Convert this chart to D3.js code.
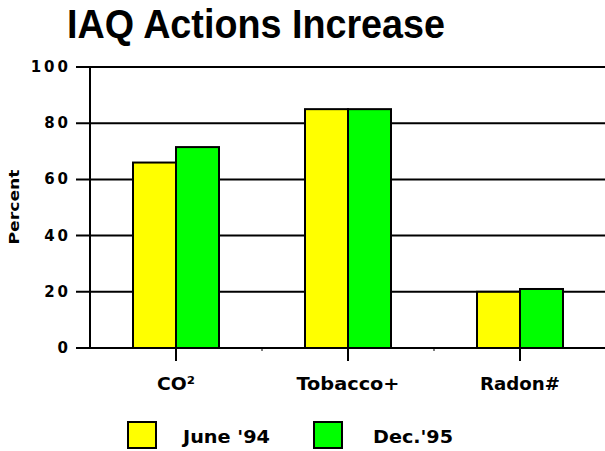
<!DOCTYPE html>
<html><head><meta charset="utf-8">
<script src="https://cdn.jsdelivr.net/npm/d3@7"></script>
<style>body{margin:0;background:#fff}svg{display:block}</style>
</head><body>
<svg id="c" width="605" height="451"></svg>
<script>
const categories = ["CO\u00B2", "Tobacco+", "Radon#"];
const seriesNames = ["June '94", "Dec.'95"];
const june94 = [66, 85, 20];
const dec95 = [71.5, 85, 21];
const yTicks = [0, 20, 40, 60, 80, 100];
const colors = ["#ffff00", "#00ff00"];

(function () {
const svg = d3.select("#c");
const W = 605, H = 451;
const pLeft = 90, pRight = 606, pTop = 67, pBottom = 348;
const font = "'DejaVu Sans', sans-serif";

const x = d3.scaleBand().domain(categories).range([pLeft, pRight]);
const xs = d3.scaleBand().domain(seriesNames).range([0, x.bandwidth()]).paddingOuter(1).paddingInner(0);
const y = d3.scaleLinear().domain([0, 100]).range([pBottom, pTop]);

// title
svg.append("text").attr("x", 67).attr("y", 38)
  .attr("font-family", "'Liberation Sans', Arial, sans-serif").attr("font-weight", "bold")
  .attr("font-size", 41).attr("textLength", 378).attr("lengthAdjust", "spacingAndGlyphs")
  .text("IAQ Actions Increase");

// gridlines
svg.append("g").selectAll("line").data(yTicks).join("line")
  .attr("x1", 76).attr("x2", W).attr("y1", d => y(d)).attr("y2", d => y(d))
  .attr("stroke", "#000").attr("stroke-width", 2);

// y axis line
svg.append("line").attr("x1", pLeft).attr("x2", pLeft).attr("y1", y(100)).attr("y2", y(0))
  .attr("stroke", "#000").attr("stroke-width", 2);

// y tick labels
svg.append("g").selectAll("text").data(yTicks).join("text")
  .attr("x", 71).attr("y", d => y(d) + 5).attr("text-anchor", "end")
  .attr("font-family", font).attr("font-weight", "bold").attr("font-size", 15)
  .attr("letter-spacing", 3)
  .text(d => String(d));

// y label
svg.append("text").attr("transform", "translate(19,207) rotate(-90)")
  .attr("text-anchor", "middle").attr("font-family", font).attr("font-weight", "bold")
  .attr("font-size", 14).attr("textLength", 75).attr("lengthAdjust", "spacingAndGlyphs")
  .text("Percent");

// bars
const data = categories.map((c, i) => ({c, vals: [june94[i], dec95[i]]}));
const g = svg.append("g");
data.forEach(d => {
  d.vals.forEach((v, j) => {
    g.append("rect")
      .attr("x", x(d.c) + xs(seriesNames[j]))
      .attr("y", y(v))
      .attr("width", xs.bandwidth())
      .attr("height", y(0) - y(v))
      .attr("fill", colors[j]).attr("stroke", "#000").attr("stroke-width", 2);
  });
});

// x axis baseline
svg.append("line").attr("x1", 76).attr("x2", W).attr("y1", y(0)).attr("y2", y(0))
  .attr("stroke", "#000").attr("stroke-width", 2);

// category ticks
svg.append("g").selectAll("line").data(categories).join("line")
  .attr("x1", d => x(d) + x.bandwidth() / 2).attr("x2", d => x(d) + x.bandwidth() / 2)
  .attr("y1", y(0)).attr("y2", y(0) + 13).attr("stroke", "#000").attr("stroke-width", 2);

// boundary minor ticks
svg.append("g").selectAll("line").data(categories.slice(1)).join("line")
  .attr("x1", d => x(d)).attr("x2", d => x(d))
  .attr("y1", y(0)).attr("y2", y(0) + 3).attr("stroke", "#000").attr("stroke-width", 1);

// category labels
const labelWidths = [38, 103, 80];
svg.append("g").selectAll("text").data(categories).join("text")
  .attr("x", d => x(d) + x.bandwidth() / 2).attr("y", 390)
  .attr("text-anchor", "middle").attr("font-family", font).attr("font-weight", "bold")
  .attr("font-size", 18)
  .attr("textLength", (d, i) => labelWidths[i]).attr("lengthAdjust", "spacingAndGlyphs")
  .text(d => d);

// legend
const legX = [128, 314];
const legTX = [183, 373];
const legTW = [87, 80];
seriesNames.forEach((s, i) => {
  svg.append("rect").attr("x", legX[i]).attr("y", 422).attr("width", 28).attr("height", 26)
    .attr("fill", colors[i]).attr("stroke", "#000").attr("stroke-width", 2);
  svg.append("text").attr("x", legTX[i]).attr("y", 443)
    .attr("font-family", font).attr("font-weight", "bold").attr("font-size", 18)
    .attr("textLength", legTW[i]).attr("lengthAdjust", "spacingAndGlyphs")
    .text(s);
});
})();
</script>
</body></html>
